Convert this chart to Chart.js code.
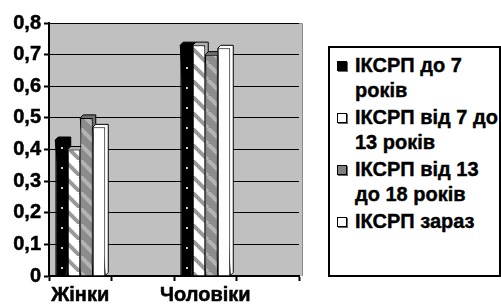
<!DOCTYPE html>
<html>
<head>
<meta charset="utf-8">
<script src="https://cdn.jsdelivr.net/npm/chart.js@4"></script>
<style>
  body { margin: 0; background: #fff; }
  #wrap { position: relative; width: 501px; height: 306px; overflow: hidden; }
  #chart { position: absolute; left: 0; top: 0; }
  #legend {
    position: absolute; left: 328px; top: 46px; width: 169px; height: 222px;
    border: 2px solid #000; padding-top: 5px; box-sizing: content-box;
    font: bold 20px "Liberation Sans", Arial, sans-serif; color: #000;
    -webkit-text-stroke: 0.4px #000;
  }
  .item { position: relative; padding-left: 25px; line-height: 25px; margin-bottom: 2px; white-space: nowrap; }
  .sw {
    position: absolute; left: 7px; top: 8px; width: 8px; height: 8px;
    border: 1px solid #000; box-shadow: 1px 1px 0 #666;
  }
</style>
</head>
<body>
<div id="wrap">
  <canvas id="chart" width="320" height="306"></canvas>
  <div id="legend"></div>
</div>
<script>
// categories (empty slots keep the original axis spacing)
const categories = ["Жінки", "", "Чоловіки", ""];

const seriesNames = [
    ["ІКСРП до 7", "років"],
    ["ІКСРП від 7 до", "13 років"],
    ["ІКСРП від 13", "до 18 років"],
    ["ІКСРП зараз"]
];

const under7 = [0.43, null, 0.73, null];
const from7to13 = [0.40, null, 0.73, null];
const from13to18 = [0.50, null, 0.70, null];
const now = [0.47, null, 0.72, null];

const yTicks = [0, 0.1, 0.2, 0.3, 0.4, 0.5, 0.6, 0.7, 0.8];

const FONT = "'Liberation Sans', Arial, sans-serif";

function stripePattern(bg, stripe) {
    const c = document.createElement("canvas");
    c.width = 16;
    c.height = 16;
    const g = c.getContext("2d");
    g.fillStyle = bg;
    g.fillRect(0, 0, 16, 16);
    g.strokeStyle = stripe;
    g.lineWidth = 4;
    for (let k = -16; k <= 32; k += 16) {
        g.beginPath();
        g.moveTo(k, 0);
        g.lineTo(k + 16, 16);
        g.stroke();
    }
    return g.createPattern(c, "repeat");
}

const fills = [
    "#000000",
    stripePattern("#ffffff", "#9a9a9a"),
    stripePattern("#8c8c8c", "#b4b4b4"),
    "#ffffff"
];
const topColors = ["#000000", "#b0b0b0", "#707070", "#ffffff"];
const swatchColors = ["#000000", "#ffffff", "#808080", "#ffffff"];

// grey back wall
const wallPlugin = {
    id: "wall",
    beforeDraw(chart) {
        const a = chart.chartArea;
        const ctx = chart.ctx;
        ctx.save();
        ctx.fillStyle = "#c0c0c0";
        ctx.fillRect(a.left, a.top, a.right - a.left + 3, a.bottom - a.top);
        ctx.strokeStyle = "#8a8a8a";
        ctx.lineWidth = 1;
        ctx.beginPath();
        ctx.moveTo(a.left, a.top + 0.5);
        ctx.lineTo(a.right + 3.5, a.top + 0.5);
        ctx.lineTo(a.right + 3.5, a.bottom);
        ctx.stroke();
        ctx.restore();
    }
};

function hasValue(chart, i, j) {
    return chart.data.datasets[i].data[j] != null;
}

// small depth on the bars, drawn behind them
const depthPlugin = {
    id: "depth",
    beforeDatasetsDraw(chart) {
        const ctx = chart.ctx;
        const d = 3;
        ctx.save();
        ctx.lineWidth = 1;
        ctx.strokeStyle = "#000";
        chart.data.datasets.forEach((ds, i) => {
            chart.getDatasetMeta(i).data.forEach((bar, j) => {
                if (!hasValue(chart, i, j)) return;
                const x1 = bar.x - bar.width / 2;
                const x2 = bar.x + bar.width / 2;
                const y = bar.y;
                const b = bar.base;
                ctx.fillStyle = topColors[i];
                ctx.beginPath();
                ctx.moveTo(x1, y);
                ctx.lineTo(x1 + d, y - d);
                ctx.lineTo(x2 + d, y - d);
                ctx.lineTo(x2 + d, b - d);
                ctx.lineTo(x2, b);
                ctx.closePath();
                ctx.fill();
                ctx.stroke();
            });
        });
        ctx.restore();
    },
    afterDatasetsDraw(chart) {
        // white dots on the black bars
        const ctx = chart.ctx;
        ctx.save();
        ctx.fillStyle = "#d0d0d0";
        chart.getDatasetMeta(0).data.forEach((bar, j) => {
            if (!hasValue(chart, 0, j)) return;
            for (let yy = bar.base - 9; yy > bar.y + 6; yy -= 20) {
                ctx.fillRect(Math.round(bar.x) - 1, Math.round(yy), 2, 2);
            }
        });
        ctx.restore();
    }
};

const datasets = [under7, from7to13, from13to18, now].map((values, i) => ({
    label: seriesNames[i].join(" "),
    data: values,
    backgroundColor: fills[i],
    borderColor: "#000",
    borderWidth: 1,
    borderSkipped: "bottom",
    categoryPercentage: 0.8,
    barPercentage: 1.0
}));

const tickFont = { family: FONT, size: 20, weight: "bold" };

new Chart(document.getElementById("chart"), {
    type: "bar",
    data: { labels: categories, datasets: datasets },
    options: {
        responsive: false,
        animation: false,
        layout: { padding: { top: 23, right: 21, left: 0, bottom: 0 } },
        plugins: {
            legend: { display: false },
            tooltip: { enabled: false }
        },
        scales: {
            x: {
                grid: {
                    offset: true,
                    drawOnChartArea: false,
                    drawTicks: true,
                    tickLength: 5,
                    tickWidth: 2,
                    color: "#000"
                },
                border: { color: "#000", width: 2 },
                ticks: {
                    color: "#000",
                    padding: 2,
                    autoSkip: false,
                    maxRotation: 0,
                    textStrokeColor: "#000",
                    textStrokeWidth: 0.5,
                    font: tickFont
                },
                afterFit(scale) { scale.height = 30; }
            },
            y: {
                min: 0,
                max: 0.8,
                afterBuildTicks(scale) {
                    scale.ticks = yTicks.map(v => ({ value: v }));
                },
                grid: {
                    color: "#000",
                    lineWidth: 1,
                    tickLength: 5,
                    tickWidth: 2
                },
                border: { color: "#000", width: 2 },
                ticks: {
                    color: "#000",
                    padding: 3,
                    textStrokeColor: "#000",
                    textStrokeWidth: 0.5,
                    font: tickFont,
                    callback: v => v === 0 ? "0" : v.toFixed(1).replace(".", ",")
                },
                afterFit(scale) { scale.width = 49; }
            }
        }
    },
    plugins: [wallPlugin, depthPlugin]
});

// legend with the original line breaks
const legend = document.getElementById("legend");
seriesNames.forEach((lines, i) => {
    const item = document.createElement("div");
    item.className = "item";
    const sw = document.createElement("span");
    sw.className = "sw";
    sw.style.background = swatchColors[i];
    item.appendChild(sw);
    lines.forEach((line, j) => {
        if (j > 0) item.appendChild(document.createElement("br"));
        item.appendChild(document.createTextNode(line));
    });
    legend.appendChild(item);
});
</script>
</body>
</html>
